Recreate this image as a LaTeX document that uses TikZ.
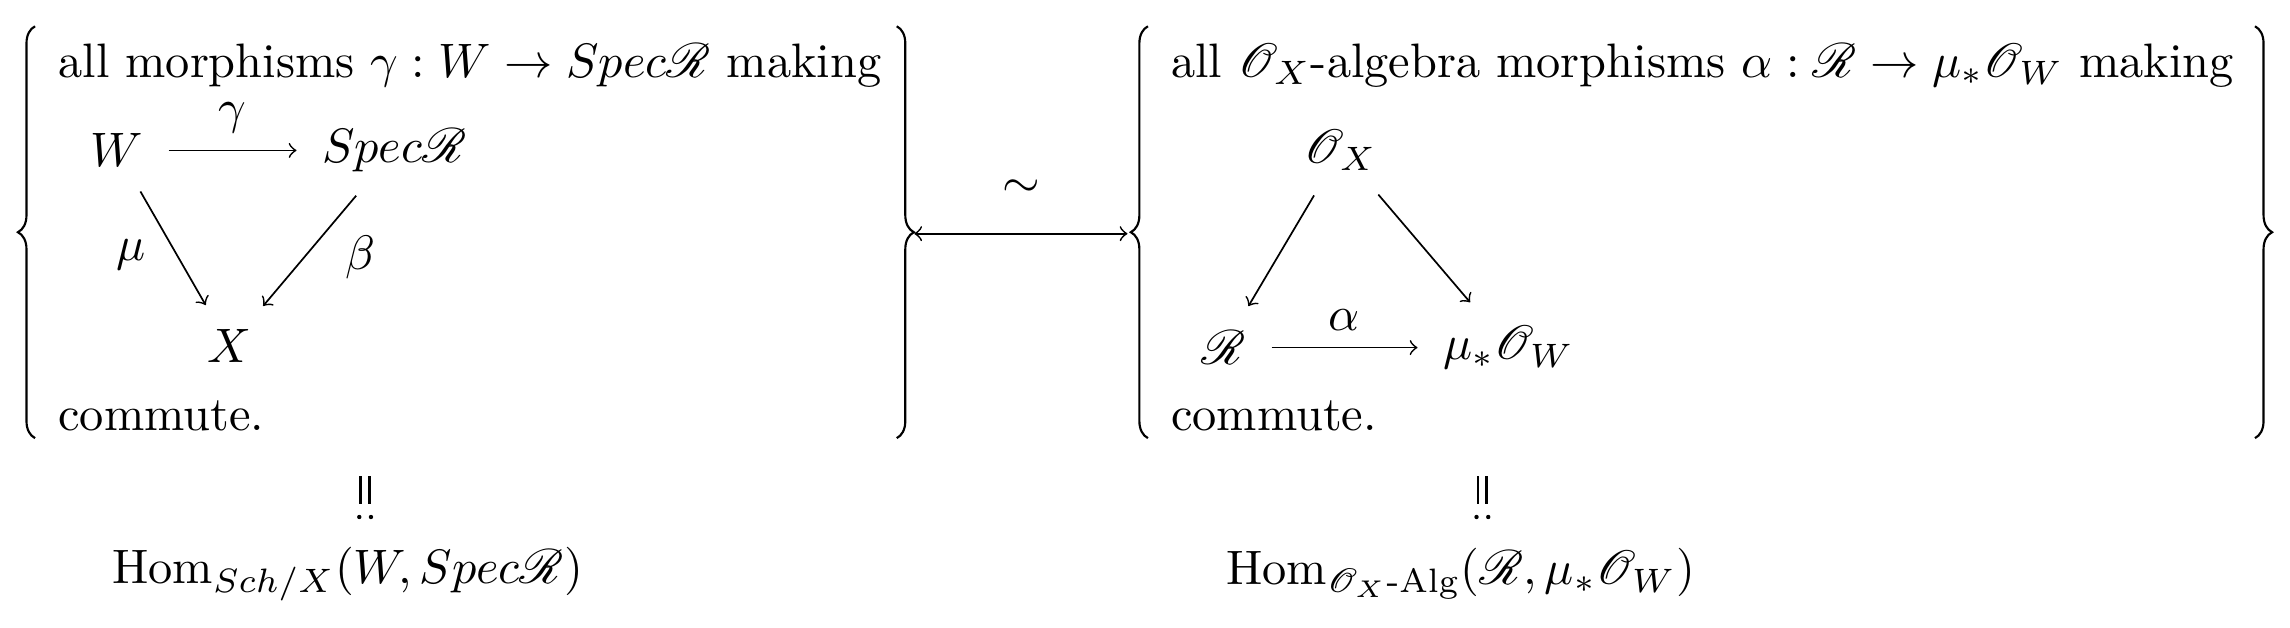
\documentclass[tikz,border=0pt]{standalone}
\usepackage{mathrsfs}
\usepackage{amsmath}
\usetikzlibrary{decorations.pathreplacing}
\begin{document}
\begin{tikzpicture}[x=0.012cm,y=-0.012cm,
  every node/.style={scale=1.13},
  lbl/.style={inner sep=1pt},
  br/.style={decorate,decoration={brace,amplitude=4pt},line width=0.5pt},
  ar/.style={->,thin,shorten >=2pt,shorten <=2pt}]
\useasboundingbox (0,0) rectangle (1568,430);
% left block
\draw[br] (24,300) coordinate (lb1) -- (24,18) coordinate (lb2);
\draw[br] (614,18) coordinate (rb1) -- (614,300) coordinate (rb2);
\node[anchor=west,lbl] (t1) at (36,45) {all morphisms $\gamma: W\to Spec\mathscr{R}$ making};
\node (W) at (80,103) {$W$};
\node (S) at (270,103) {$Spec\mathscr{R}$};
\node (X) at (157,237) {$X$};
\draw[ar] (W) -- node[above] {$\gamma$} (S);
\draw[ar] (W) -- node[left=3pt,pos=0.55] {$\mu$} (X);
\draw[ar] (S) -- node[right=5pt,pos=0.55] {$\beta$} (X);
\node[anchor=west,lbl] (c1) at (36,285) {commute.};
% middle
\coordinate (m1) at (626,160);
\coordinate (m2) at (772,160);
\draw[<->,thin] (m1) -- node[above=4pt] {$\sim$} (m2);
% right block
\draw[br] (786,300) coordinate (lc1) -- (786,18) coordinate (lc2);
\draw[br] (1544,18) coordinate (rc1) -- (1544,300) coordinate (rc2);
\node[anchor=west,lbl] (t2) at (798,45) {all $\mathscr{O}_X$-algebra morphisms $\alpha:\mathscr{R}\to\mu_*\mathscr{O}_W$ making};
\node (O) at (918,103) {$\mathscr{O}_X$};
\node (R) at (838,238) {$\mathscr{R}$};
\node (M) at (1033,238) {$\mu_*\mathscr{O}_W$};
\draw[ar] (O) -- (R);
\draw[ar] (O) -- (M);
\draw[ar] (R) -- node[above] {$\alpha$} (M);
\node[anchor=west,lbl] (c2) at (798,285) {commute.};
% bottom equalities
\foreach \cx/\nm in {250/e1,1015/e2}{
  \coordinate (\nm) at (\cx,342);
  \draw[line width=0.6pt] (\cx-3,326) -- (\cx-3,345) (\cx+3,326) -- (\cx+3,345);
  \fill (\cx-4,354) circle (1.5) (\cx+4,354) circle (1.5);
}
\node (h1) at (238,393) {$\operatorname{Hom}_{Sch/X}(W,Spec\mathscr{R})$};
\node (h2) at (1000,393) {$\operatorname{Hom}_{\mathscr{O}_X\text{-Alg}}(\mathscr{R},\mu_*\mathscr{O}_W)$};
\end{tikzpicture}
\end{document}
